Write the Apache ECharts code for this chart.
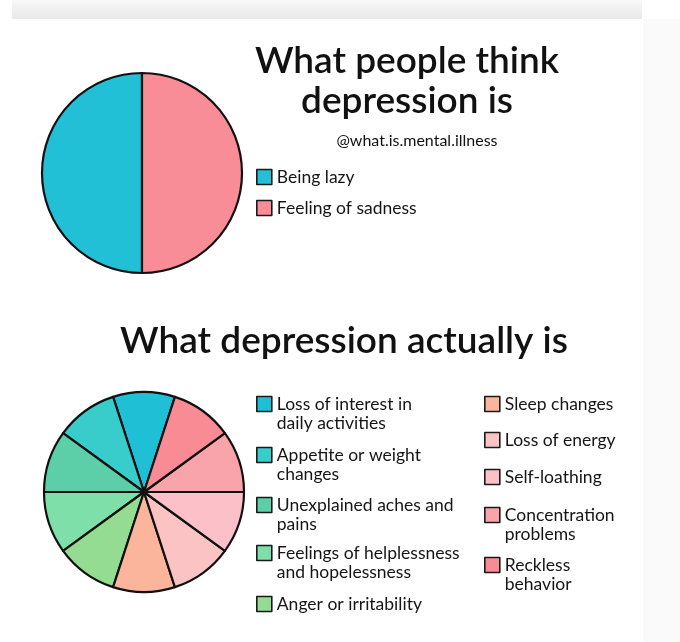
<!DOCTYPE html>
<html>
<head>
<meta charset="utf-8">
<script src="https://cdn.jsdelivr.net/npm/echarts@6/dist/echarts.min.js"></script>
<style>
html,body{margin:0;padding:0;background:#ffffff;}
#chart{width:680px;height:642px;}
</style>
</head>
<body>
<div id="chart"></div>
<script>
// ---- data ----
const topTitle = 'What people think\ndepression is';
const credit = '@what.is.mental.illness';
const topNames = ['Being lazy', 'Feeling of sadness'];
const topValues = [50, 50];
const topColors = ['#22c0d6', '#f98d97'];

const bottomTitle = 'What depression actually is';
const bottomNames = ['Loss of interest in daily activities', 'Appetite or weight changes', 'Unexplained aches and pains',
  'Feelings of helplessness and hopelessness', 'Anger or irritability', 'Sleep changes', 'Loss of energy',
  'Self-loathing', 'Concentration problems', 'Reckless behavior'];
const bottomLabels = ['Loss of interest in\ndaily activities', 'Appetite or weight\nchanges', 'Unexplained aches and\npains',
  'Feelings of helplessness\nand hopelessness', 'Anger or irritability', 'Sleep changes', 'Loss of energy',
  'Self-loathing', 'Concentration\nproblems', 'Reckless\nbehavior'];
const bottomValues = [10, 10, 10, 10, 10, 10, 10, 10, 10, 10];
const bottomColors = ['#1fc0d6', '#38cccb', '#5ccfa8', '#7ee0a8', '#95dc93', '#fbb59c', '#fbc3c3', '#fcc0c8', '#f9a3aa', '#f98b95'];

// ---- layout ----
const FONT = 'Lato';
const LH = 19;
const legendPos = {
  'Being lazy': [256, 177],
  'Feeling of sadness': [256, 208],
  'Loss of interest in daily activities': [256, 404],
  'Appetite or weight changes': [256, 455],
  'Unexplained aches and pains': [256, 505],
  'Feelings of helplessness and hopelessness': [256, 553],
  'Anger or irritability': [256, 604],
  'Sleep changes': [484, 404],
  'Loss of energy': [484, 440],
  'Self-loathing': [484, 477],
  'Concentration problems': [484, 515],
  'Reckless behavior': [484, 565]
};
const labelOf = {};
topNames.forEach(n => labelOf[n] = n);
bottomNames.forEach((n, i) => labelOf[n] = bottomLabels[i]);

const legends = Object.keys(legendPos).map(name => {
  const twoLine = labelOf[name].indexOf('\n') >= 0;
  const [x, cy] = legendPos[name];
  return {
    data: [name],
    left: x,
    top: twoLine ? cy - 28.5 : cy - 9.5,
    padding: 0,
    itemWidth: 15,
    itemHeight: 15,
    icon: 'rect',
    selectedMode: false,
    itemStyle: { borderColor: '#1a1a1a', borderWidth: 1.6 },
    // a leading blank line keeps the icon level with the first text line
    formatter: n => (labelOf[n].indexOf('\n') >= 0 ? ' \n' : '') + labelOf[n],
    textStyle: { fontFamily: FONT, fontSize: 17.5, color: '#151515', lineHeight: LH }
  };
});

const chart = echarts.init(document.getElementById('chart'), null, { renderer: 'canvas' });
chart.setOption({
  backgroundColor: '#ffffff',
  animation: false,
  graphic: [
    { type: 'rect', shape: { x: 12, y: 0, width: 630, height: 19 }, silent: true,
      style: { fill: new echarts.graphic.LinearGradient(0, 0, 0, 1, [{ offset: 0, color: '#f8f8f8' }, { offset: 1, color: '#e9e9e9' }]) } },
    { type: 'rect', shape: { x: 643, y: 19, width: 37, height: 623 }, silent: true, style: { fill: '#fafafa' } }
  ],
  title: [
    { text: topTitle, left: 402, top: 36, textAlign: 'center',
      textStyle: { fontFamily: FONT, fontSize: 37, fontWeight: 600, color: '#111', lineHeight: 40 } },
    { text: credit, left: 412, top: 128, textAlign: 'center',
      textStyle: { fontFamily: FONT, fontSize: 16, fontWeight: 'normal', color: '#111' } },
    { text: bottomTitle, left: 339, top: 318, textAlign: 'center',
      textStyle: { fontFamily: FONT, fontSize: 37, fontWeight: 600, color: '#111' } }
  ],
  legend: legends,
  series: [
    {
      type: 'pie', center: [142, 173], radius: 100, startAngle: 90, clockwise: false,
      label: { show: false }, labelLine: { show: false }, emphasis: { disabled: true },
      itemStyle: { borderColor: '#111', borderWidth: 2.2 },
      data: topNames.map((n, i) => ({ name: n, value: topValues[i], itemStyle: { color: topColors[i] } }))
    },
    {
      type: 'pie', center: [144, 492], radius: 100, startAngle: 72, clockwise: false,
      label: { show: false }, labelLine: { show: false }, emphasis: { disabled: true },
      itemStyle: { borderColor: '#111', borderWidth: 2.2 },
      data: bottomNames.map((n, i) => ({ name: n, value: bottomValues[i], itemStyle: { color: bottomColors[i] } }))
    }
  ]
});
</script>
</body>
</html>
